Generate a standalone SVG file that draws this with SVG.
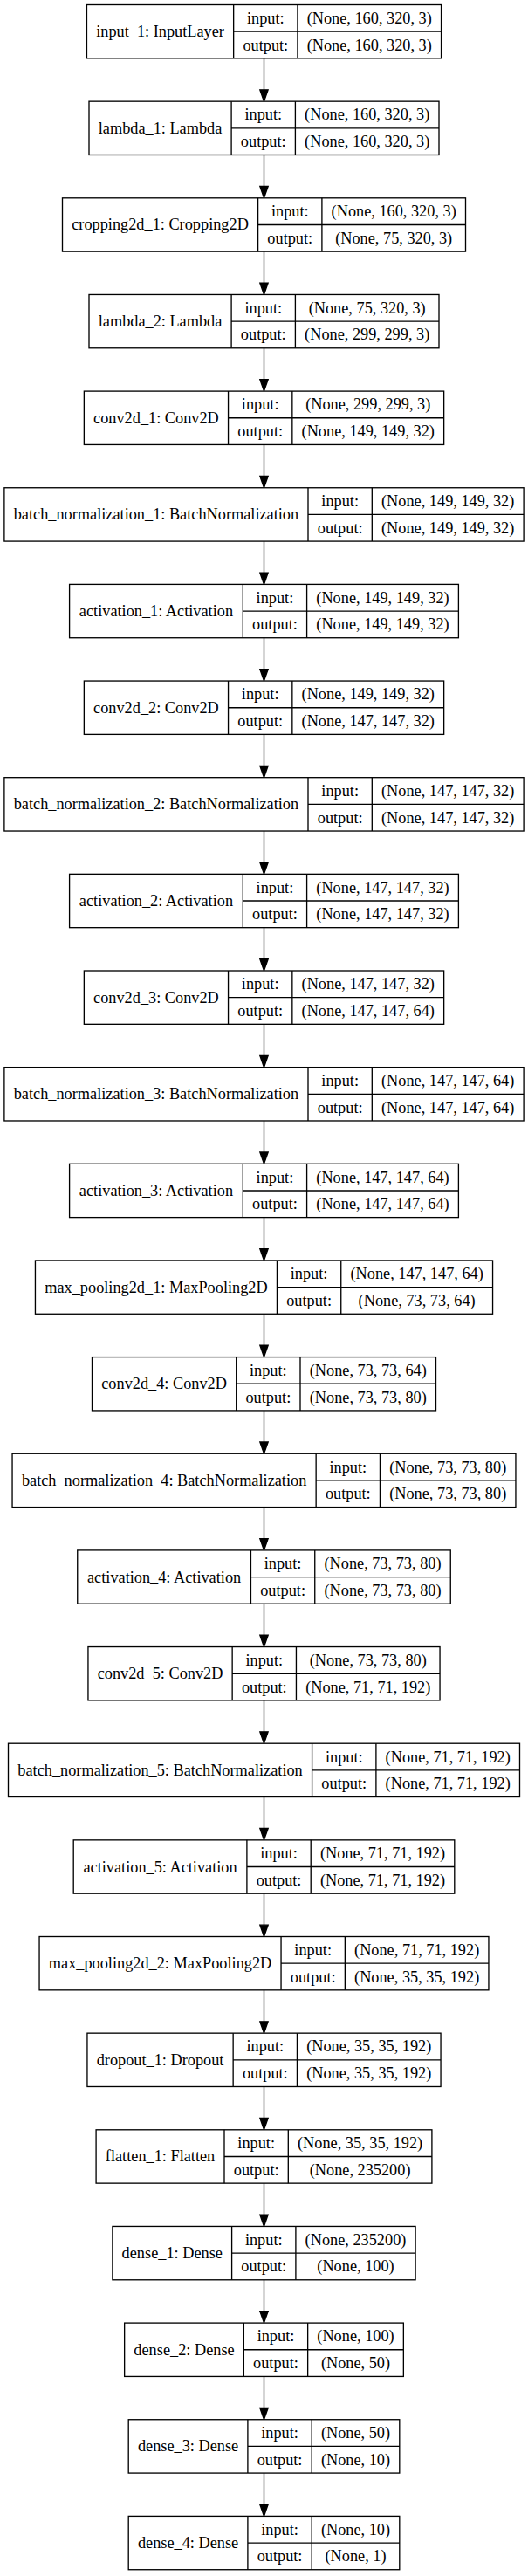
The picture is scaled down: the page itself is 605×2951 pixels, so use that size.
<svg xmlns="http://www.w3.org/2000/svg" width="605" height="2951" viewBox="0 0 605 2951">
<style>
.bx{fill:#fff;stroke:#000;stroke-width:1.33}
.dv{stroke:#000;stroke-width:1.33;fill:none}
.e{stroke:#000;stroke-width:1.33;fill:none;marker-end:url(#ah)}
text{font-family:"Liberation Serif","Times New Roman",serif;font-size:18.3px;text-anchor:middle;fill:#000}
</style>
<defs>
<marker id="ah" markerUnits="userSpaceOnUse" markerWidth="15" markerHeight="11" refX="0" refY="4.67" orient="auto" overflow="visible">
<path d="M0,0 L13.33,4.67 L0,9.33 Z" fill="#000" stroke="#000" stroke-width="1.33"/>
</marker>
</defs>
<rect width="605" height="2951" fill="#fff"/>
<g id="connectors">
<line class="e" x1="302.5" y1="66.83" x2="302.5" y2="102.82"/>
<line class="e" x1="302.5" y1="177.48" x2="302.5" y2="213.47"/>
<line class="e" x1="302.5" y1="288.13" x2="302.5" y2="324.12"/>
<line class="e" x1="302.5" y1="398.78" x2="302.5" y2="434.77"/>
<line class="e" x1="302.5" y1="509.43" x2="302.5" y2="545.42"/>
<line class="e" x1="302.5" y1="620.08" x2="302.5" y2="656.07"/>
<line class="e" x1="302.5" y1="730.73" x2="302.5" y2="766.72"/>
<line class="e" x1="302.5" y1="841.38" x2="302.5" y2="877.37"/>
<line class="e" x1="302.5" y1="952.03" x2="302.5" y2="988.02"/>
<line class="e" x1="302.5" y1="1062.68" x2="302.5" y2="1098.67"/>
<line class="e" x1="302.5" y1="1173.33" x2="302.5" y2="1209.32"/>
<line class="e" x1="302.5" y1="1283.98" x2="302.5" y2="1319.97"/>
<line class="e" x1="302.5" y1="1394.63" x2="302.5" y2="1430.62"/>
<line class="e" x1="302.5" y1="1505.28" x2="302.5" y2="1541.27"/>
<line class="e" x1="302.5" y1="1615.93" x2="302.5" y2="1651.92"/>
<line class="e" x1="302.5" y1="1726.58" x2="302.5" y2="1762.57"/>
<line class="e" x1="302.5" y1="1837.23" x2="302.5" y2="1873.22"/>
<line class="e" x1="302.5" y1="1947.88" x2="302.5" y2="1983.87"/>
<line class="e" x1="302.5" y1="2058.53" x2="302.5" y2="2094.52"/>
<line class="e" x1="302.5" y1="2169.18" x2="302.5" y2="2205.17"/>
<line class="e" x1="302.5" y1="2279.83" x2="302.5" y2="2315.82"/>
<line class="e" x1="302.5" y1="2390.48" x2="302.5" y2="2426.47"/>
<line class="e" x1="302.5" y1="2501.13" x2="302.5" y2="2537.12"/>
<line class="e" x1="302.5" y1="2611.78" x2="302.5" y2="2647.77"/>
<line class="e" x1="302.5" y1="2722.43" x2="302.5" y2="2758.42"/>
<line class="e" x1="302.5" y1="2833.08" x2="302.5" y2="2869.07"/>
</g>

<g id="input_1" transform="translate(99.45,5.5)">
<rect class="bx" width="406.1" height="61.33"/>
<path class="dv" d="M168.2,0V61.33M241.5,0V61.33M168.2,30.67H406.1"/>
<text x="84.1" y="36.67">input_1: InputLayer</text>
<text x="204.85" y="21.33">input:</text><text x="204.85" y="52">output:</text>
<text x="323.8" y="21.33">(None, 160, 320, 3)</text><text x="323.8" y="52">(None, 160, 320, 3)</text>
</g>

<g id="lambda_1" transform="translate(102,116.15)">
<rect class="bx" width="401" height="61.33"/>
<path class="dv" d="M163.1,0V61.33M236.4,0V61.33M163.1,30.67H401"/>
<text x="81.55" y="36.67">lambda_1: Lambda</text>
<text x="199.75" y="21.33">input:</text><text x="199.75" y="52">output:</text>
<text x="318.7" y="21.33">(None, 160, 320, 3)</text><text x="318.7" y="52">(None, 160, 320, 3)</text>
</g>

<g id="cropping2d_1" transform="translate(71.5,226.8)">
<rect class="bx" width="462" height="61.33"/>
<path class="dv" d="M224.1,0V61.33M297.4,0V61.33M224.1,30.67H462"/>
<text x="112.05" y="36.67">cropping2d_1: Cropping2D</text>
<text x="260.75" y="21.33">input:</text><text x="260.75" y="52">output:</text>
<text x="379.7" y="21.33">(None, 160, 320, 3)</text><text x="379.7" y="52">(None, 75, 320, 3)</text>
</g>

<g id="lambda_2" transform="translate(102,337.45)">
<rect class="bx" width="401" height="61.33"/>
<path class="dv" d="M163.1,0V61.33M236.4,0V61.33M163.1,30.67H401"/>
<text x="81.55" y="36.67">lambda_2: Lambda</text>
<text x="199.75" y="21.33">input:</text><text x="199.75" y="52">output:</text>
<text x="318.7" y="21.33">(None, 75, 320, 3)</text><text x="318.7" y="52">(None, 299, 299, 3)</text>
</g>

<g id="conv2d_1" transform="translate(96.35,448.1)">
<rect class="bx" width="412.3" height="61.33"/>
<path class="dv" d="M165.2,0V61.33M238.5,0V61.33M165.2,30.67H412.3"/>
<text x="82.6" y="36.67">conv2d_1: Conv2D</text>
<text x="201.85" y="21.33">input:</text><text x="201.85" y="52">output:</text>
<text x="325.4" y="21.33">(None, 299, 299, 3)</text><text x="325.4" y="52">(None, 149, 149, 32)</text>
</g>

<g id="batch_normalization_1" transform="translate(4.9,558.75)">
<rect class="bx" width="595.2" height="61.33"/>
<path class="dv" d="M348.1,0V61.33M421.4,0V61.33M348.1,30.67H595.2"/>
<text x="174.05" y="36.67">batch_normalization_1: BatchNormalization</text>
<text x="384.75" y="21.33">input:</text><text x="384.75" y="52">output:</text>
<text x="508.3" y="21.33">(None, 149, 149, 32)</text><text x="508.3" y="52">(None, 149, 149, 32)</text>
</g>

<g id="activation_1" transform="translate(79.6,669.4)">
<rect class="bx" width="445.8" height="61.33"/>
<path class="dv" d="M198.7,0V61.33M272,0V61.33M198.7,30.67H445.8"/>
<text x="99.35" y="36.67">activation_1: Activation</text>
<text x="235.35" y="21.33">input:</text><text x="235.35" y="52">output:</text>
<text x="358.9" y="21.33">(None, 149, 149, 32)</text><text x="358.9" y="52">(None, 149, 149, 32)</text>
</g>

<g id="conv2d_2" transform="translate(96.35,780.05)">
<rect class="bx" width="412.3" height="61.33"/>
<path class="dv" d="M165.2,0V61.33M238.5,0V61.33M165.2,30.67H412.3"/>
<text x="82.6" y="36.67">conv2d_2: Conv2D</text>
<text x="201.85" y="21.33">input:</text><text x="201.85" y="52">output:</text>
<text x="325.4" y="21.33">(None, 149, 149, 32)</text><text x="325.4" y="52">(None, 147, 147, 32)</text>
</g>

<g id="batch_normalization_2" transform="translate(4.9,890.7)">
<rect class="bx" width="595.2" height="61.33"/>
<path class="dv" d="M348.1,0V61.33M421.4,0V61.33M348.1,30.67H595.2"/>
<text x="174.05" y="36.67">batch_normalization_2: BatchNormalization</text>
<text x="384.75" y="21.33">input:</text><text x="384.75" y="52">output:</text>
<text x="508.3" y="21.33">(None, 147, 147, 32)</text><text x="508.3" y="52">(None, 147, 147, 32)</text>
</g>

<g id="activation_2" transform="translate(79.6,1001.35)">
<rect class="bx" width="445.8" height="61.33"/>
<path class="dv" d="M198.7,0V61.33M272,0V61.33M198.7,30.67H445.8"/>
<text x="99.35" y="36.67">activation_2: Activation</text>
<text x="235.35" y="21.33">input:</text><text x="235.35" y="52">output:</text>
<text x="358.9" y="21.33">(None, 147, 147, 32)</text><text x="358.9" y="52">(None, 147, 147, 32)</text>
</g>

<g id="conv2d_3" transform="translate(96.35,1112)">
<rect class="bx" width="412.3" height="61.33"/>
<path class="dv" d="M165.2,0V61.33M238.5,0V61.33M165.2,30.67H412.3"/>
<text x="82.6" y="36.67">conv2d_3: Conv2D</text>
<text x="201.85" y="21.33">input:</text><text x="201.85" y="52">output:</text>
<text x="325.4" y="21.33">(None, 147, 147, 32)</text><text x="325.4" y="52">(None, 147, 147, 64)</text>
</g>

<g id="batch_normalization_3" transform="translate(4.9,1222.65)">
<rect class="bx" width="595.2" height="61.33"/>
<path class="dv" d="M348.1,0V61.33M421.4,0V61.33M348.1,30.67H595.2"/>
<text x="174.05" y="36.67">batch_normalization_3: BatchNormalization</text>
<text x="384.75" y="21.33">input:</text><text x="384.75" y="52">output:</text>
<text x="508.3" y="21.33">(None, 147, 147, 64)</text><text x="508.3" y="52">(None, 147, 147, 64)</text>
</g>

<g id="activation_3" transform="translate(79.6,1333.3)">
<rect class="bx" width="445.8" height="61.33"/>
<path class="dv" d="M198.7,0V61.33M272,0V61.33M198.7,30.67H445.8"/>
<text x="99.35" y="36.67">activation_3: Activation</text>
<text x="235.35" y="21.33">input:</text><text x="235.35" y="52">output:</text>
<text x="358.9" y="21.33">(None, 147, 147, 64)</text><text x="358.9" y="52">(None, 147, 147, 64)</text>
</g>

<g id="max_pooling2d_1" transform="translate(40.45,1443.95)">
<rect class="bx" width="524.1" height="61.33"/>
<path class="dv" d="M277,0V61.33M350.3,0V61.33M277,30.67H524.1"/>
<text x="138.5" y="36.67">max_pooling2d_1: MaxPooling2D</text>
<text x="313.65" y="21.33">input:</text><text x="313.65" y="52">output:</text>
<text x="437.2" y="21.33">(None, 147, 147, 64)</text><text x="437.2" y="52">(None, 73, 73, 64)</text>
</g>

<g id="conv2d_4" transform="translate(105.5,1554.6)">
<rect class="bx" width="394" height="61.33"/>
<path class="dv" d="M165.2,0V61.33M238.5,0V61.33M165.2,30.67H394"/>
<text x="82.6" y="36.67">conv2d_4: Conv2D</text>
<text x="201.85" y="21.33">input:</text><text x="201.85" y="52">output:</text>
<text x="316.25" y="21.33">(None, 73, 73, 64)</text><text x="316.25" y="52">(None, 73, 73, 80)</text>
</g>

<g id="batch_normalization_4" transform="translate(14.05,1665.25)">
<rect class="bx" width="576.9" height="61.33"/>
<path class="dv" d="M348.1,0V61.33M421.4,0V61.33M348.1,30.67H576.9"/>
<text x="174.05" y="36.67">batch_normalization_4: BatchNormalization</text>
<text x="384.75" y="21.33">input:</text><text x="384.75" y="52">output:</text>
<text x="499.15" y="21.33">(None, 73, 73, 80)</text><text x="499.15" y="52">(None, 73, 73, 80)</text>
</g>

<g id="activation_4" transform="translate(88.75,1775.9)">
<rect class="bx" width="427.5" height="61.33"/>
<path class="dv" d="M198.7,0V61.33M272,0V61.33M198.7,30.67H427.5"/>
<text x="99.35" y="36.67">activation_4: Activation</text>
<text x="235.35" y="21.33">input:</text><text x="235.35" y="52">output:</text>
<text x="349.75" y="21.33">(None, 73, 73, 80)</text><text x="349.75" y="52">(None, 73, 73, 80)</text>
</g>

<g id="conv2d_5" transform="translate(100.95,1886.55)">
<rect class="bx" width="403.1" height="61.33"/>
<path class="dv" d="M165.2,0V61.33M238.5,0V61.33M165.2,30.67H403.1"/>
<text x="82.6" y="36.67">conv2d_5: Conv2D</text>
<text x="201.85" y="21.33">input:</text><text x="201.85" y="52">output:</text>
<text x="320.8" y="21.33">(None, 73, 73, 80)</text><text x="320.8" y="52">(None, 71, 71, 192)</text>
</g>

<g id="batch_normalization_5" transform="translate(9.5,1997.2)">
<rect class="bx" width="586" height="61.33"/>
<path class="dv" d="M348.1,0V61.33M421.4,0V61.33M348.1,30.67H586"/>
<text x="174.05" y="36.67">batch_normalization_5: BatchNormalization</text>
<text x="384.75" y="21.33">input:</text><text x="384.75" y="52">output:</text>
<text x="503.7" y="21.33">(None, 71, 71, 192)</text><text x="503.7" y="52">(None, 71, 71, 192)</text>
</g>

<g id="activation_5" transform="translate(84.2,2107.85)">
<rect class="bx" width="436.6" height="61.33"/>
<path class="dv" d="M198.7,0V61.33M272,0V61.33M198.7,30.67H436.6"/>
<text x="99.35" y="36.67">activation_5: Activation</text>
<text x="235.35" y="21.33">input:</text><text x="235.35" y="52">output:</text>
<text x="354.3" y="21.33">(None, 71, 71, 192)</text><text x="354.3" y="52">(None, 71, 71, 192)</text>
</g>

<g id="max_pooling2d_2" transform="translate(45.05,2218.5)">
<rect class="bx" width="514.9" height="61.33"/>
<path class="dv" d="M277,0V61.33M350.3,0V61.33M277,30.67H514.9"/>
<text x="138.5" y="36.67">max_pooling2d_2: MaxPooling2D</text>
<text x="313.65" y="21.33">input:</text><text x="313.65" y="52">output:</text>
<text x="432.6" y="21.33">(None, 71, 71, 192)</text><text x="432.6" y="52">(None, 35, 35, 192)</text>
</g>

<g id="dropout_1" transform="translate(99.95,2329.15)">
<rect class="bx" width="405.1" height="61.33"/>
<path class="dv" d="M167.2,0V61.33M240.5,0V61.33M167.2,30.67H405.1"/>
<text x="83.6" y="36.67">dropout_1: Dropout</text>
<text x="203.85" y="21.33">input:</text><text x="203.85" y="52">output:</text>
<text x="322.8" y="21.33">(None, 35, 35, 192)</text><text x="322.8" y="52">(None, 35, 35, 192)</text>
</g>

<g id="flatten_1" transform="translate(110.1,2439.8)">
<rect class="bx" width="384.8" height="61.33"/>
<path class="dv" d="M146.9,0V61.33M220.2,0V61.33M146.9,30.67H384.8"/>
<text x="73.45" y="36.67">flatten_1: Flatten</text>
<text x="183.55" y="21.33">input:</text><text x="183.55" y="52">output:</text>
<text x="302.5" y="21.33">(None, 35, 35, 192)</text><text x="302.5" y="52">(None, 235200)</text>
</g>

<g id="dense_1" transform="translate(128.9,2550.45)">
<rect class="bx" width="347.2" height="61.33"/>
<path class="dv" d="M136.7,0V61.33M210,0V61.33M136.7,30.67H347.2"/>
<text x="68.35" y="36.67">dense_1: Dense</text>
<text x="173.35" y="21.33">input:</text><text x="173.35" y="52">output:</text>
<text x="278.6" y="21.33">(None, 235200)</text><text x="278.6" y="52">(None, 100)</text>
</g>

<g id="dense_2" transform="translate(142.65,2661.1)">
<rect class="bx" width="319.7" height="61.33"/>
<path class="dv" d="M136.7,0V61.33M210,0V61.33M136.7,30.67H319.7"/>
<text x="68.35" y="36.67">dense_2: Dense</text>
<text x="173.35" y="21.33">input:</text><text x="173.35" y="52">output:</text>
<text x="264.85" y="21.33">(None, 100)</text><text x="264.85" y="52">(None, 50)</text>
</g>

<g id="dense_3" transform="translate(147.2,2771.75)">
<rect class="bx" width="310.6" height="61.33"/>
<path class="dv" d="M136.7,0V61.33M210,0V61.33M136.7,30.67H310.6"/>
<text x="68.35" y="36.67">dense_3: Dense</text>
<text x="173.35" y="21.33">input:</text><text x="173.35" y="52">output:</text>
<text x="260.3" y="21.33">(None, 50)</text><text x="260.3" y="52">(None, 10)</text>
</g>

<g id="dense_4" transform="translate(147.2,2882.4)">
<rect class="bx" width="310.6" height="61.33"/>
<path class="dv" d="M136.7,0V61.33M210,0V61.33M136.7,30.67H310.6"/>
<text x="68.35" y="36.67">dense_4: Dense</text>
<text x="173.35" y="21.33">input:</text><text x="173.35" y="52">output:</text>
<text x="260.3" y="21.33">(None, 10)</text><text x="260.3" y="52">(None, 1)</text>
</g>
</svg>
